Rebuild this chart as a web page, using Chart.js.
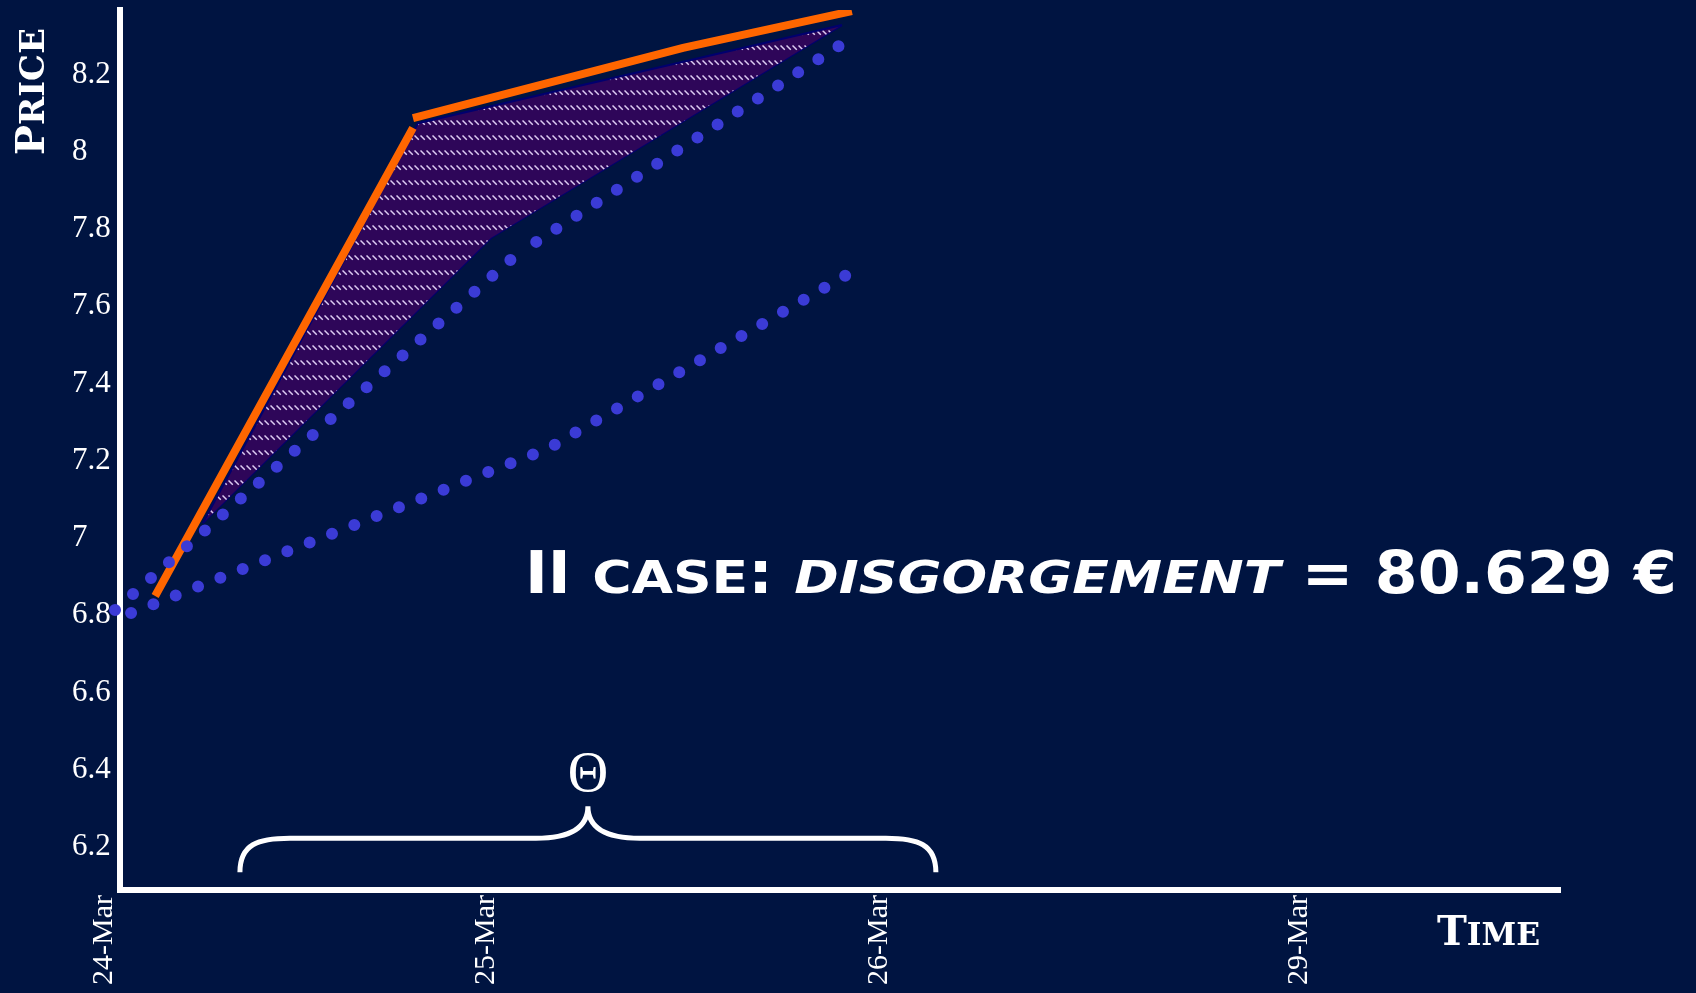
<!DOCTYPE html>
<html>
<head>
<meta charset="utf-8">
<script src="https://cdn.jsdelivr.net/npm/chart.js@4.4.1/dist/chart.umd.min.js"></script>
<style>
  html, body { margin: 0; padding: 0; background: #001441; }
  #wrap { width: 1696px; height: 993px; position: relative; }
</style>
</head>
<body>
<div id="wrap"><canvas id="chart"></canvas></div>
<script>
// x = trading-day position (24-Mar = 0), y = price
const dateTicks = [0, 1, 2.03, 3.13];
const dateLabels = ['24-Mar', '25-Mar', '26-Mar', '29-Mar'];
const priceTicks = [6.2, 6.4, 6.6, 6.8, 7, 7.2, 7.4, 7.6, 7.8, 8, 8.2];
const priceLabels = ['6.2', '6.4', '6.6', '6.8', '7', '7.2', '7.4', '7.6', '7.8', '8', '8.2'];

const orangeX = [0.092, 0.767, 0.767, 0.767, 1.474, 1.916];
const orangeY = [6.850, 8.062, null, 8.087, 8.269, 8.364];
const upperDotsX = [-0.013, 1.037, 1.895];
const upperDotsY = [6.814, 7.733, 8.282];
const lowerDotsX = [0.029, 1.123, 1.924];
const lowerDotsY = [6.806, 7.233, 7.694];
const hatchTopX = [0.217, 0.780, 1.890];
const hatchTopY = [7.039, 8.074, 8.328];
const hatchBottomX = [0.217, 0.971, 1.890];
const hatchBottomY = [7.039, 7.777, 8.328];

const thetaSpan = [0.314, 2.136];
const thetaLabel = 'Θ';
const caseText = ['II case: ', 'disgorgement', ' = 80.629 €'];
const caseAt = [1.06, 6.858];

const pts = (xs, ys) => xs.map((x, i) => ({ x: x, y: ys[i] }));

function hatchPattern() {
  const c = document.createElement('canvas');
  c.width = 6; c.height = 15;
  const g = c.getContext('2d');
  g.fillStyle = '#2e0659';
  g.fillRect(0, 0, 6, 15);
  g.strokeStyle = '#dccbf2';
  g.lineWidth = 1.5;
  g.beginPath(); g.moveTo(0.5, 0.5); g.lineTo(4.8, 4.8); g.stroke();
  return g.createPattern(c, 'repeat');
}

// small-caps text: lowercase letters drawn as smaller capitals
function drawCaps(ctx, parts, opt) {
  const pieces = [];
  parts.forEach(p => {
    for (const ch of p.text) {
      const small = /[a-z]/.test(ch);
      const last = pieces[pieces.length - 1];
      const s = small ? ch.toUpperCase() : ch;
      if (last && last.small === small && last.italic === p.italic) last.s += s;
      else pieces.push({ s: s, small: small, italic: p.italic });
    }
  });
  const fontOf = pc => (pc.italic ? 'italic ' : '') + 'bold ' + (pc.small ? opt.small : opt.big) + 'px ' + opt.family;
  let total = 0;
  pieces.forEach(pc => {
    ctx.font = fontOf(pc);
    pc.w = ctx.measureText(pc.s).width * (pc.small ? opt.sxSmall : opt.sxBig);
    total += pc.w;
  });
  const k = opt.width / total;
  let cx = 0;
  pieces.forEach(pc => {
    ctx.save();
    ctx.font = fontOf(pc);
    ctx.translate(cx, 0);
    ctx.scale(k * (pc.small ? opt.sxSmall : opt.sxBig), 1);
    ctx.fillText(pc.s, 0, 0);
    ctx.restore();
    cx += pc.w * k;
  });
}

const decor = {
  id: 'decor',
  afterDatasetsDraw(chart) {
    const { ctx, scales: { x, y } } = chart;
    ctx.save();
    ctx.fillStyle = '#ffffff';
    ctx.strokeStyle = '#ffffff';

    // brace under the theta interval
    const xa = x.getPixelForValue(thetaSpan[0]);
    const xb = x.getPixelForValue(thetaSpan[1]);
    const xm = (xa + xb) / 2;
    const yEnd = y.getPixelForValue(6.135);
    const yBar = yEnd - 34, yTip = yEnd - 66;
    ctx.lineWidth = 5;
    ctx.lineCap = 'butt';
    ctx.beginPath();
    ctx.moveTo(xa, yEnd);
    ctx.bezierCurveTo(xa, yBar + 6, xa + 18, yBar, xa + 50, yBar);
    ctx.lineTo(xm - 52, yBar);
    ctx.bezierCurveTo(xm - 18, yBar, xm, yBar - 10, xm, yTip);
    ctx.bezierCurveTo(xm, yBar - 10, xm + 18, yBar, xm + 52, yBar);
    ctx.lineTo(xb - 50, yBar);
    ctx.bezierCurveTo(xb - 18, yBar, xb, yBar + 6, xb, yEnd);
    ctx.stroke();

    ctx.font = '56px "Liberation Serif"';
    ctx.textAlign = 'center';
    ctx.textBaseline = 'alphabetic';
    ctx.fillText(thetaLabel, xm, yTip - 15);

    // case annotation
    ctx.textAlign = 'left';
    ctx.save();
    ctx.translate(x.getPixelForValue(caseAt[0]), y.getPixelForValue(caseAt[1]));
    drawCaps(ctx, [
      { text: caseText[0], italic: false },
      { text: caseText[1], italic: true },
      { text: caseText[2], italic: false }
    ], { big: 59, small: 44, family: '"DejaVu Sans"', sxBig: 1.08, sxSmall: 1.26, width: 1152 });
    ctx.restore();

    // axis titles
    const area = chart.chartArea;
    ctx.save();
    ctx.translate(area.right - 123, area.bottom + 55);
    drawCaps(ctx, [{ text: 'Time', italic: false }],
      { big: 41, small: 32, family: '"DejaVu Serif"', sxBig: 1, sxSmall: 1, width: 103 });
    ctx.restore();

    ctx.save();
    ctx.translate(44, area.top + 145);
    ctx.rotate(-Math.PI / 2);
    drawCaps(ctx, [{ text: 'Price', italic: false }],
      { big: 40, small: 34, family: '"DejaVu Serif"', sxBig: 1, sxSmall: 1, width: 127 });
    ctx.restore();

    ctx.restore();
  }
};

const dotBlue = '#3b3bd6';
const tickFont = { family: '"Liberation Serif"', size: 30 };

new Chart(document.getElementById('chart'), {
  type: 'line',
  data: {
    datasets: [
      {
        data: pts(upperDotsX, upperDotsY),
        borderColor: dotBlue,
        borderWidth: 12,
        borderDash: [0, 24],
        borderCapStyle: 'round',
        pointRadius: 0,
        clip: false,
        segment: { borderDashOffset: c => c.p0DataIndex * 0.001 }
      },
      {
        data: pts(lowerDotsX, lowerDotsY),
        borderColor: dotBlue,
        borderWidth: 12,
        borderDash: [0, 24],
        borderCapStyle: 'round',
        pointRadius: 0,
        clip: false
      },
      {
        data: pts(orangeX, orangeY),
        borderColor: '#ff6600',
        borderWidth: 8,
        borderCapStyle: 'butt',
        pointRadius: 0,
        spanGaps: false
      },
      {
        data: pts(hatchTopX, hatchTopY),
        borderColor: '#00006e',
        borderWidth: 2,
        backgroundColor: hatchPattern(),
        fill: '+1',
        pointRadius: 0
      },
      {
        data: pts(hatchBottomX, hatchBottomY),
        borderColor: '#00006e',
        borderWidth: 2,
        fill: false,
        pointRadius: 0
      }
    ]
  },
  options: {
    responsive: true,
    maintainAspectRatio: false,
    animation: false,
    layout: { padding: { left: 72, top: 10, right: 136, bottom: 0 } },
    plugins: {
      legend: { display: false },
      tooltip: { enabled: false }
    },
    scales: {
      x: {
        type: 'linear',
        min: 0,
        max: 3.77,
        grid: { display: false, drawTicks: false },
        border: { display: true, color: '#ffffff', width: 6 },
        afterBuildTicks: a => { a.ticks = dateTicks.map(v => ({ value: v })); },
        afterFit: a => { a.height = 103; a.paddingLeft = 0; a.paddingRight = 0; },
        ticks: {
          autoSkip: false,
          maxRotation: 90,
          minRotation: 90,
          padding: 5,
          labelOffset: -16,
          color: '#ffffff',
          font: tickFont,
          callback: (v, i) => dateLabels[i]
        }
      },
      y: {
        type: 'linear',
        min: 6.089,
        max: 8.367,
        grid: { display: false, drawTicks: false },
        border: { display: true, color: '#ffffff', width: 6 },
        afterBuildTicks: a => { a.ticks = priceTicks.map(v => ({ value: v })); },
        afterFit: a => { a.width = 48; a.paddingTop = 0; a.paddingBottom = 0; },
        ticks: {
          autoSkip: false,
          padding: 8,
          crossAlign: 'far',
          color: '#ffffff',
          font: { family: '"Liberation Serif"', size: 31 },
          callback: (v, i) => priceLabels[i]
        }
      }
    }
  },
  plugins: [decor]
});
</script>
</body>
</html>
